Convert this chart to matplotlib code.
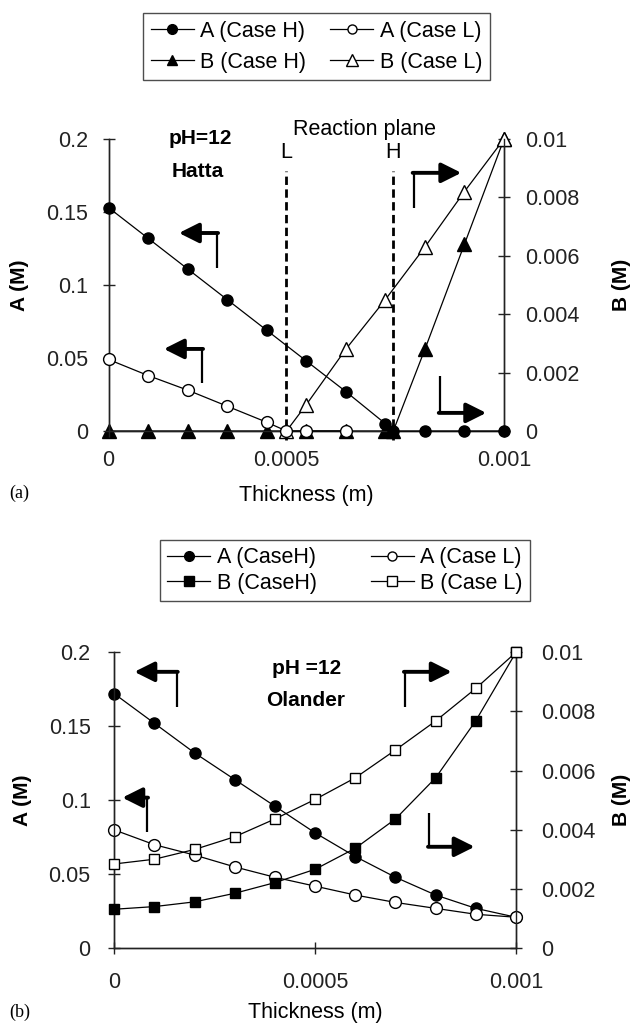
import matplotlib
matplotlib.use('Agg')
import matplotlib.pyplot as plt
from matplotlib.lines import Line2D

plt.rcParams['font.family'] = ['Liberation Sans', 'DejaVu Sans']
plt.rcParams['font.size'] = 15.5

# ---- panel (a): Hatta, pH=12 ----
a_AH_x = [0, 0.0001, 0.0002, 0.0003, 0.0004, 0.0005, 0.0006, 0.0007, 0.00072, 0.0008, 0.0009, 0.001]
a_AH = [0.153, 0.132, 0.111, 0.090, 0.069, 0.048, 0.027, 0.005, 0, 0, 0, 0]
a_AL_x = [0, 0.0001, 0.0002, 0.0003, 0.0004, 0.00045, 0.0005, 0.0006]
a_AL = [0.049, 0.038, 0.028, 0.017, 0.006, 0, 0, 0]
a_BH_x = [0, 0.0001, 0.0002, 0.0003, 0.0004, 0.0005, 0.0006, 0.0007, 0.00072, 0.0008, 0.0009, 0.001]
a_BH = [0, 0, 0, 0, 0, 0, 0, 0, 0, 0.0028, 0.0064, 0.01]
a_BL_x = [0.00045, 0.0005, 0.0006, 0.0007, 0.0008, 0.0009, 0.001]
a_BL = [0, 0.0009, 0.0028, 0.0045, 0.0063, 0.0082, 0.01]
plane_L = 0.00045
plane_H = 0.00072

# ---- panel (b): Olander, pH =12 ----
b_x = [0, 0.0001, 0.0002, 0.0003, 0.0004, 0.0005, 0.0006, 0.0007, 0.0008, 0.0009, 0.001]
b_AH = [0.172, 0.152, 0.132, 0.114, 0.096, 0.078, 0.062, 0.048, 0.036, 0.027, 0.021]
b_AL = [0.080, 0.070, 0.063, 0.055, 0.048, 0.042, 0.036, 0.031, 0.027, 0.023, 0.021]
b_BH = [0.00132, 0.00141, 0.00157, 0.00186, 0.00222, 0.00267, 0.00338, 0.00437, 0.00576, 0.00769, 0.01]
b_BL = [0.00285, 0.00301, 0.00334, 0.00377, 0.00437, 0.00503, 0.00576, 0.00670, 0.00768, 0.00878, 0.01]

A_ticks = [0, 0.05, 0.1, 0.15, 0.2]
A_labels = ['0', '0.05', '0.1', '0.15', '0.2']
B_ticks = [0, 0.002, 0.004, 0.006, 0.008, 0.01]
B_labels = ['0', '0.002', '0.004', '0.006', '0.008', '0.01']

fig = plt.figure(figsize=(6.36, 10.24), dpi=100)
ax_a = fig.add_axes([0.1706, 0.5791, 0.6219, 0.2852])
ax_b = fig.add_axes([0.1797, 0.0739, 0.6316, 0.2891])
LW = 0.9


def style_axes(ax, ax2, xticks, xlabels, xpad, lpad, rpad, xlab_y, alab_x, blab_x):
    ax.set_xlim(0, 0.001)
    ax.set_ylim(0, 0.2)
    ax2.set_ylim(0, 0.01)
    ax.set_xticks(xticks)
    ax.set_xticklabels(xlabels)
    ax.set_yticks(A_ticks)
    ax.set_yticklabels(A_labels)
    ax2.set_yticks(B_ticks)
    ax2.set_yticklabels(B_labels)
    for a in (ax, ax2):
        a.spines['top'].set_visible(False)
        for s in a.spines.values():
            s.set_linewidth(1.0)
            s.set_color('#222222')
    ax.tick_params(axis='both', direction='inout', length=8, width=1, colors='#222222')
    ax.tick_params(axis='x', pad=xpad)
    ax.tick_params(axis='y', pad=lpad)
    ax2.tick_params(axis='y', direction='inout', length=8, width=1, pad=rpad, colors='#222222')
    ax.set_xlabel('Thickness (m)')
    ax.xaxis.set_label_coords(0.5, xlab_y)
    ax.set_ylabel('A (M)', fontweight='bold', fontsize=15)
    ax.yaxis.set_label_coords(alab_x, 0.5)
    ax2.set_ylabel('B (M)', fontweight='bold', fontsize=15)
    ax2.yaxis.set_label_coords(blab_x, 0.5)


def bent_arrow(ax, xv, y_from, y_corner, x_head):
    ax.plot([xv, xv], [y_from, y_corner], transform=ax.transAxes, color='black',
            lw=1.6, clip_on=False, solid_capstyle='butt')
    ax.annotate('', xy=(x_head, y_corner), xytext=(xv - (0.003 if x_head > xv else -0.003), y_corner),
                xycoords='axes fraction',
                arrowprops=dict(arrowstyle='-|>', lw=2.8, color='black', mutation_scale=30,
                                shrinkA=0, shrinkB=0))


# ---------- panel (a) ----------
ax_a2 = ax_a.twinx()
mk = dict(color='black', lw=LW, clip_on=False)
ax_a.plot(a_AH_x, a_AH, marker='o', ms=8, mfc='black', mec='black', zorder=3, **mk)
ax_a.plot(a_AL_x, a_AL, marker='o', ms=8.5, mfc='white', mec='black', mew=1, zorder=3, **mk)
ax_a2.plot(a_BH_x, a_BH, marker='^', ms=9.5, mfc='black', mec='black', zorder=3, **mk)
ax_a2.plot(a_BL_x, a_BL, marker='^', ms=10, mfc='white', mec='black', mew=1, zorder=3, **mk)
ax_a.set_zorder(ax_a2.get_zorder() + 1)
ax_a.patch.set_visible(False)
style_axes(ax_a, ax_a2, [0, plane_L, 0.001], ['0', '0.0005', '0.001'],
           9.5, 10.5, 11, -0.185, -0.200, 1.274)

for xp, lab in ((plane_L, 'L'), (plane_H, 'H')):
    ax_a.axvline(xp, ymin=-0.03, ymax=0.89, color='black', lw=2, ls=(0, (3, 1.6)), clip_on=False)
    ax_a.text(xp, 0.952, lab, transform=ax_a.get_xaxis_transform(), ha='center', va='center')
ax_a.text(0.648, 1.032, 'Reaction plane', transform=ax_a.transAxes, ha='center', va='center')
ax_a.text(0.232, 1.0, 'pH=12', transform=ax_a.transAxes, ha='center', va='center',
          fontweight='bold', fontsize=15)
ax_a.text(0.226, 0.888, 'Hatta', transform=ax_a.transAxes, ha='center', va='center',
          fontweight='bold', fontsize=15)
bent_arrow(ax_a, 0.274, 0.558, 0.678, 0.178)
bent_arrow(ax_a, 0.236, 0.164, 0.281, 0.140)
bent_arrow(ax_a, 0.772, 0.764, 0.884, 0.892)
bent_arrow(ax_a, 0.838, 0.188, 0.062, 0.955)

# ---------- panel (b) ----------
ax_b2 = ax_b.twinx()
ax_b.plot(b_x, b_AH, marker='o', ms=8, mfc='black', mec='black', zorder=3, **mk)
ax_b.plot(b_x, b_AL, marker='o', ms=8.5, mfc='white', mec='black', mew=1, zorder=3, **mk)
ax_b2.plot(b_x, b_BH, marker='s', ms=7.5, mfc='black', mec='black', zorder=3, **mk)
ax_b2.plot(b_x, b_BL, marker='s', ms=7.5, mfc='white', mec='black', mew=1, zorder=3, **mk)
style_axes(ax_b, ax_b2, [0, 0.0005, 0.001], ['0', '0.0005', '0.001'],
           13, 13, 14, -0.181, -0.204, 1.240)
ax_b.text(0.479, 0.946, 'pH =12', transform=ax_b.transAxes, ha='center', va='center',
          fontweight='bold', fontsize=15)
ax_b.text(0.477, 0.838, 'Olander', transform=ax_b.transAxes, ha='center', va='center',
          fontweight='bold', fontsize=15)
bent_arrow(ax_b, 0.155, 0.814, 0.934, 0.050)
bent_arrow(ax_b, 0.081, 0.392, 0.509, 0.020)
bent_arrow(ax_b, 0.724, 0.814, 0.934, 0.840)
bent_arrow(ax_b, 0.784, 0.456, 0.343, 0.897)

# ---------- legends ----------
def handle(marker, filled, ms):
    return Line2D([], [], color='black', lw=LW, marker=marker, ms=ms,
                  mfc='black' if filled else 'white', mec='black')


leg_kw = dict(loc='center', ncol=2, frameon=True, fancybox=False, edgecolor='#222222',
              handlelength=2.0, handletextpad=0.3, borderpad=0.35, borderaxespad=0,
              fontsize=15.5)
la = fig.legend([handle('o', True, 7), handle('^', True, 7.5), handle('o', False, 6.5), handle('^', False, 8)],
                ['A (Case H)', 'B (Case H)', 'A (Case L)', 'B (Case L)'],
                bbox_to_anchor=(0.4976, 0.9544), columnspacing=1.1, labelspacing=0.45, **leg_kw)
la.get_frame().set_linewidth(1.0)
lb = fig.legend([handle('o', True, 7), handle('s', True, 6.5), handle('o', False, 6.5), handle('s', False, 6.5)],
                ['A (CaseH)', 'B (CaseH)', 'A (Case L)', 'B (Case L)'],
                bbox_to_anchor=(0.5425, 0.4429), columnspacing=2.5, labelspacing=0.2, **leg_kw)
lb.get_frame().set_linewidth(1.0)

fig.text(0.031, 1 - 493 / 1024, '(a)', family=['Liberation Serif'], fontsize=13, ha='center', va='center')
fig.text(0.031, 1 - 1012 / 1024, '(b)', family=['Liberation Serif'], fontsize=13, ha='center', va='center')

fig.savefig('out.png', dpi=100)
